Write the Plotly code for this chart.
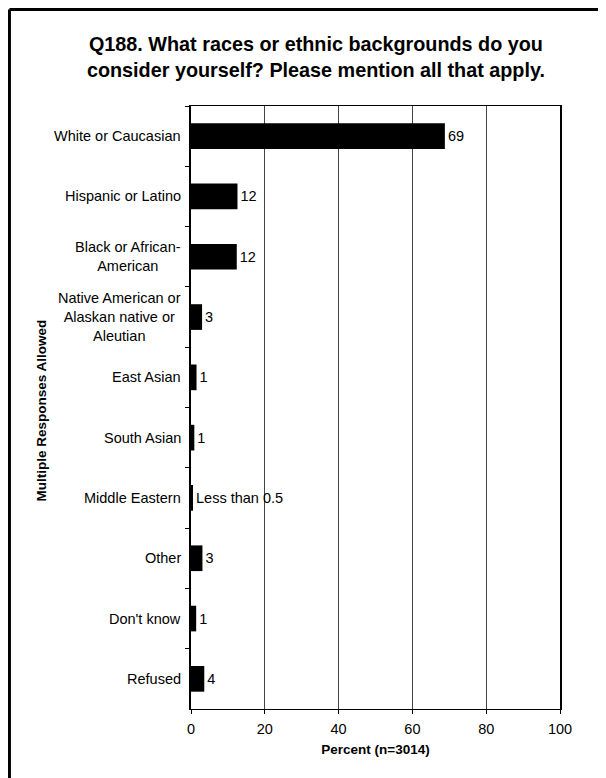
import plotly.graph_objects as go

# survey categories, top to bottom
categories = ["White or Caucasian", "Hispanic or Latino", "Black or African-<br>American",
              "Native American or<br>Alaskan native or<br>Aleutian", "East Asian", "South Asian",
              "Middle Eastern", "Other", "Don't know", "Refused"]
percent = [68.8, 12.6, 12.4, 3.0, 1.5, 0.9, 0.4, 3.1, 1.4, 3.6]
value_labels = ["69", "12", "12", "3", "1", "1", "Less than 0.5", "3", "1", "4"]
x_ticks = [0, 20, 40, 60, 80, 100]

FONT = "Liberation Sans, Arial, sans-serif"

fig = go.Figure(go.Bar(
    x=percent,
    y=categories,
    orientation="h",
    marker=dict(color="black", line=dict(width=0)),
    text=value_labels,
    textposition="outside",
    textfont=dict(family=FONT, size=14.5, color="black"),
    cliponaxis=False,
))

# category labels as centred annotations (multi-line labels are centred in the original)
for cat in categories:
    fig.add_annotation(x=0, xref="paper", y=cat, yref="y", text=cat, showarrow=False,
                       xanchor="right", xshift=-8, align="center",
                       font=dict(family=FONT, size=14.5, color="black"))

fig.add_annotation(x=-0.432, xref="paper", y=0.495, yref="paper", text="<b>Multiple Responses Allowed</b>",
                   textangle=-90, showarrow=False, font=dict(family=FONT, size=13.5, color="black"))

# outer frame: top and left edges only
fig.add_shape(type="line", xref="paper", yref="paper", x0=-0.492, x1=1.125, y0=1.16, y1=1.16,
              line=dict(color="black", width=3))
fig.add_shape(type="line", xref="paper", yref="paper", x0=-0.492, x1=-0.492, y0=-0.115, y1=1.16,
              line=dict(color="black", width=3))

fig.update_layout(
    width=598, height=770,
    margin=dict(l=183, r=46, t=98, b=69),
    paper_bgcolor="white", plot_bgcolor="white",
    showlegend=False,
    bargap=0.574,
    font=dict(family=FONT, size=14.5, color="black"),
    title=dict(text="<b>Q188. What races or ethnic backgrounds do you<br>consider yourself? Please mention all that apply.</b>",
               x=0.515, xanchor="center", y=0.944, yanchor="middle",
               font=dict(family=FONT, size=19.8, color="black")),
    xaxis=dict(range=[0, 100], tickvals=x_ticks, showgrid=True, gridcolor="#444", gridwidth=1,
               showline=True, linecolor="black", linewidth=1, mirror=True,
               ticks="outside", ticklen=4, tickcolor="black", zeroline=False,
               ticklabelstandoff=3,
               title=dict(text="<b>Percent (n=3014)</b>", font=dict(family=FONT, size=13.5), standoff=8),
               tickfont=dict(family=FONT, size=14.5)),
    yaxis=dict(autorange="reversed", showticklabels=False, tickson="boundaries",
               ticks="outside", ticklen=4, tickcolor="black", showgrid=False,
               showline=True, linecolor="black", linewidth=2, mirror=True, zeroline=False),
)

fig.write_html("out.html")
